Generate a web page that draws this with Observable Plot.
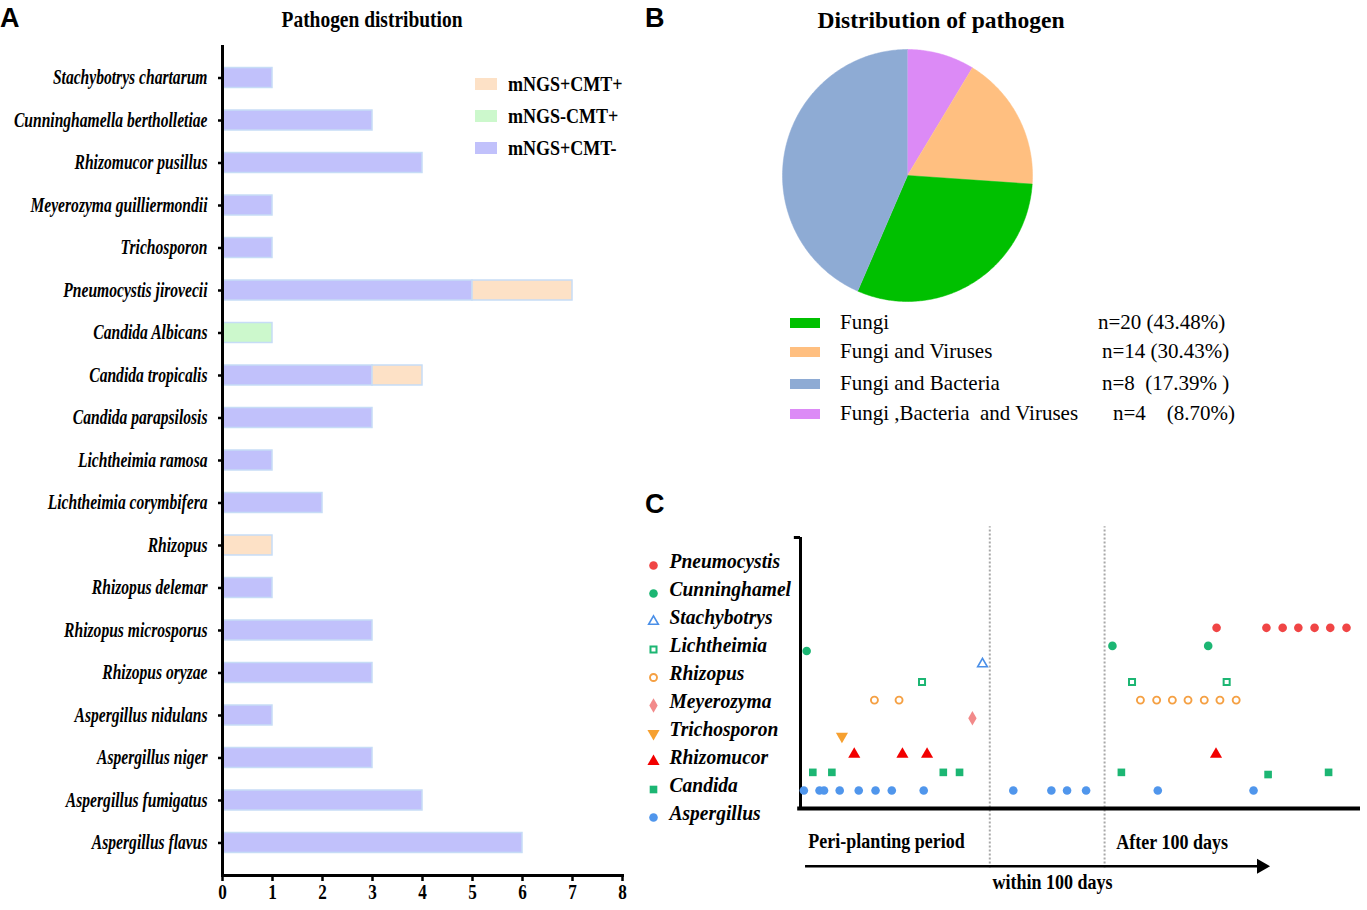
<!DOCTYPE html>
<html><head><meta charset="utf-8">
<script src="https://cdn.jsdelivr.net/npm/d3@7"></script>
<script src="https://cdn.jsdelivr.net/npm/@observablehq/plot@0.6"></script>
<style>
body{margin:0;background:#fff;}
#page{position:relative;width:1367px;height:910px;overflow:hidden;background:#fff;font-family:"Liberation Serif","Times New Roman",serif;color:#000;}
.abs{position:absolute;white-space:pre;}
.letter{font-family:"Liberation Sans",Arial,sans-serif;font-weight:bold;font-size:27px;line-height:27px;}
.sw{position:absolute;}
svg{position:absolute;overflow:visible;}
</style></head><body>
<div id="page"></div>
<script>
// ---------- Panel A data ----------
const speciesA = ["Stachybotrys chartarum","Cunninghamella bertholletiae","Rhizomucor pusillus","Meyerozyma guilliermondii","Trichosporon","Pneumocystis jirovecii","Candida Albicans","Candida tropicalis","Candida parapsilosis","Lichtheimia ramosa","Lichtheimia corymbifera","Rhizopus","Rhizopus delemar","Rhizopus microsporus","Rhizopus oryzae","Aspergillus nidulans","Aspergillus niger","Aspergillus fumigatus","Aspergillus flavus"];
const countPosNeg = [1,3,4,1,1,5,0,3,3,1,2,0,1,3,3,1,3,4,6]; // mNGS+CMT-
const countNegPos = [0,0,0,0,0,0,1,0,0,0,0,0,0,0,0,0,0,0,0]; // mNGS-CMT+
const countPosPos = [0,0,0,0,0,2,0,1,0,0,0,1,0,0,0,0,0,0,0]; // mNGS+CMT+
const typesA = ["mNGS+CMT+","mNGS-CMT+","mNGS+CMT-"];
const colorsA = ["#fde1c6","#ccf8cc","#c1c1fb"];
const xTicksA = [0,1,2,3,4,5,6,7,8];

// ---------- Panel B data ----------
const groupsB = ["Fungi","Fungi and Viruses","Fungi and Bacteria","Fungi ,Bacteria  and Viruses"];
const countTextB = ["n=20 (43.48%)","n=14 (30.43%)","n=8  (17.39% )","n=4    (8.70%)"];
const colorsB = ["#00c000","#ffbf80","#8eabd4","#dc8af6"];
const pieCounts = [4, 8, 14, 20];            // slices clockwise from 12 o'clock
const pieColors = ["#dc8af6","#ffbf80","#00c000","#8eabd4"];

// ---------- Panel C data ----------
const generaC = ["Pneumocystis","Cunninghamel","Stachybotrys","Lichtheimia","Rhizopus","Meyerozyma","Trichosporon","Rhizomucor","Candida","Aspergillus"];
const rowC = [10,9,8,7,6,5,4,3,2,1];
const timesC = [
  [74.3, 83.2, 86.1, 88.9, 91.8, 94.6, 97.5],
  [1.1, 55.7, 72.8],
  [32.5],
  [21.7, 59.2, 76.1],
  [13.2, 17.6, 60.7, 63.6, 66.4, 69.2, 72.1, 74.9, 77.8],
  [30.7],
  [7.4],
  [9.6, 18.2, 22.6, 74.2],
  [2.2, 5.6, 25.5, 28.4, 57.3, 83.5, 94.3],
  [0.6, 3.4, 4.2, 7.0, 10.4, 13.4, 16.3, 22.0, 38.0, 44.8, 47.6, 51.0, 63.8, 80.9]
];
const rowShiftC = [[1,0,-0.28],[8,5,-0.12]]; // [genus, point, shift]
const phaseBoundsC = [33.8, 54.3];

const styleC = {
  Pneumocystis: {symbol:"circle", fill:"#f04545", stroke:"none", r:4.3},
  Cunninghamel: {symbol:"circle", fill:"#1cb673", stroke:"none", r:4.3},
  Stachybotrys: {symbol:"triangle", fill:"#fff", stroke:"#4a8fe8", strokeWidth:1.6, r:3.6},
  Lichtheimia: {symbol:"square", fill:"#fff", stroke:"#1cb673", strokeWidth:2, r:3.4},
  Rhizopus: {symbol:"circle", fill:"#fff", stroke:"#f5a043", strokeWidth:1.9, r:3.5},
  Meyerozyma: {symbol:"diamond", fill:"#f28a8a", stroke:"none", r:4.4},
  Trichosporon: {symbol:"triangle", fill:"#f6a030", stroke:"none", r:4.5, rotate:180},
  Rhizomucor: {symbol:"triangle", fill:"#f20000", stroke:"none", r:4.5},
  Candida: {symbol:"square", fill:"#1cb673", stroke:"none", r:4.3},
  Aspergillus: {symbol:"circle", fill:"#5096ec", stroke:"none", r:4.3}
};

const page = document.getElementById("page");
function place(el, left, top) { el.style.left = left + "px"; el.style.top = top + "px"; page.appendChild(el); return el; }
function condense(svg, k) {
  svg.querySelectorAll("text").forEach(t => {
    const tr = t.getAttribute("transform") || "";
    t.setAttribute("transform", tr + ` scale(${k},1)`);
  });
}
function label(text, left, cy, size, opts = {}) {
  const d = document.createElement("div");
  d.className = "abs";
  d.textContent = text;
  d.style.fontSize = size + "px";
  d.style.lineHeight = (size * 1.3) + "px";
  d.style.height = (size * 1.3) + "px";
  if (opts.bold) d.style.fontWeight = "bold";
  if (opts.italic) d.style.fontStyle = "italic";
  const k = opts.k || 1;
  if (opts.center) { d.style.transform = `translateX(-50%) scaleX(${k})`; d.style.transformOrigin = "center"; }
  else { d.style.transform = `scaleX(${k})`; d.style.transformOrigin = "left center"; }
  return place(d, left, cy - size * 0.65);
}
function swatch(color, left, top, w, h) {
  const d = document.createElement("div");
  d.className = "sw"; d.style.width = w + "px"; d.style.height = h + "px"; d.style.background = color;
  return place(d, left, top);
}

// panel letters
for (const [t, x, y] of [["A",0,5],["B",645,5],["C",645,491]]) {
  const d = document.createElement("div"); d.className = "abs letter"; d.textContent = t; place(d, x, y);
}

// ---------- Panel A ----------
const rowsA = [];
speciesA.forEach((s, i) => {
  if (countPosNeg[i]) rowsA.push({species: s, type: "mNGS+CMT-", value: countPosNeg[i]});
  if (countNegPos[i]) rowsA.push({species: s, type: "mNGS-CMT+", value: countNegPos[i]});
  if (countPosPos[i]) rowsA.push({species: s, type: "mNGS+CMT+", value: countPosPos[i]});
});
const plotA = Plot.plot({
  width: 640, height: 910, marginLeft: 222, marginRight: 18, marginTop: 45, marginBottom: 35,
  style: {fontFamily: "'Liberation Serif','Times New Roman',serif", fontWeight: "bold", fontSize: "20px", color: "#000", background: "transparent"},
  x: {domain: [0, 8]},
  y: {domain: speciesA, padding: 0.53, round: false},
  color: {domain: typesA, range: colorsA},
  marks: [
    Plot.barX(rowsA, {x: "value", y: "species", fill: "type", stroke: "#c6dcf6", strokeWidth: 1.5}),
    Plot.axisX({ticks: xTicksA, tickSize: 6, tickPadding: 2, tickFormat: d3.format("d"), label: null, strokeWidth: 2.5, fontSize: 22}),
    Plot.axisY({tickSize: 4, tickPadding: 11, label: null, fontStyle: "italic", strokeWidth: 2.5}),
    Plot.ruleX([0], {strokeWidth: 3}),
    Plot.frame({anchor: "bottom", strokeWidth: 3})
  ]
});
condense(plotA, 0.78);
place(plotA, 0, 0);
label("Pathogen distribution", 372, 20, 24, {bold: true, center: true, k: 0.81});
typesA.forEach((t, i) => {
  const cy = 84 + i * 32;
  swatch(colorsA[i], 475, cy - 6, 22, 12);
  label(t, 508, cy, 20, {bold: true, k: 0.9});
});

// ---------- Panel B ----------
const arcs = d3.pie().sort(null).value(d => d)(pieCounts);
const pieMarks = arcs.map((a, i) => {
  const pts = [{x: 0, y: 0}];
  const n = Math.max(4, Math.ceil((a.endAngle - a.startAngle) * 80));
  for (let j = 0; j <= n; j++) {
    const t = a.startAngle + (a.endAngle - a.startAngle) * j / n;
    pts.push({x: Math.sin(t), y: Math.cos(t)});
  }
  return Plot.line(pts, {x: "x", y: "y", fill: pieColors[i], stroke: pieColors[i], strokeWidth: 0.5});
});
const plotB = Plot.plot({
  width: 250, height: 252, margin: 0,
  style: {background: "transparent"},
  x: {domain: [-1, 1], axis: null},
  y: {domain: [-1, 1], axis: null},
  marks: pieMarks
});
place(plotB, 782, 49);
label("Distribution of pathogen", 941, 21, 24, {bold: true, center: true, k: 0.98});
const rowYB = [323, 352, 384, 414];
const countXB = [1098, 1102, 1102, 1113];
groupsB.forEach((g, i) => {
  swatch(colorsB[i], 790, rowYB[i] - 5, 30, 10);
  label(g, 840, rowYB[i], 21);
  label(countTextB[i], countXB[i], rowYB[i], 21);
});

// ---------- Panel C ----------
const pointsC = [];
generaC.forEach((g, gi) => timesC[gi].forEach((t, pi) => {
  const sh = rowShiftC.find(s => s[0] === gi && s[1] === pi);
  pointsC.push({genus: g, time: t, row: rowC[gi] + (sh ? sh[2] : 0)});
}));
const dotMarksC = generaC.map(g => Plot.dot(pointsC.filter(p => p.genus === g), {x: "time", y: "row", ...styleC[g]}));
const plotC = Plot.plot({
  width: 727, height: 420, marginLeft: 160, marginRight: 7, marginTop: 47, marginBottom: 102,
  style: {fontFamily: "'Liberation Serif','Times New Roman',serif", fontWeight: "bold", fontSize: "20px", color: "#000", background: "transparent"},
  x: {domain: [0, 100], axis: null},
  y: {domain: [0, 15], axis: null},
  marks: [
    Plot.ruleX(phaseBoundsC, {y1: -3.3, y2: 15.6, stroke: "#a8a8a8", strokeWidth: 2, strokeDasharray: "2,2"}),
    Plot.ruleY([0], {x1: -0.5, x2: 100, strokeWidth: 4}),
    Plot.ruleX([0], {y1: 0, y2: 15, strokeWidth: 3}),
    Plot.ruleY([15], {x1: -1.1, x2: 0, strokeWidth: 3}),
    ...dotMarksC,
    Plot.ruleY([-3.2], {x1: 0.9, x2: 82, strokeWidth: 2.5}),
    Plot.dot([0], {x: 82.3, y: -3.2, symbol: "triangle", rotate: 90, r: 5.6, fill: "#000", stroke: "none"}),
    Plot.text(["Peri-planting period"], {x: 1.4, y: -1.82, text: d => d, textAnchor: "start"}),
    Plot.text(["After 100 days"], {x: 56.4, y: -1.88, text: d => d, textAnchor: "start"}),
    Plot.text(["within 100 days"], {x: 45, y: -4.1, text: d => d, textAnchor: "middle"})
  ]
});
condense(plotC, 0.9);
place(plotC, 640, 490);

const legC = Plot.plot({
  width: 155, height: 300, margin: 0,
  style: {fontFamily: "'Liberation Serif','Times New Roman',serif", fontWeight: "bold", fontStyle: "italic", fontSize: "21px", color: "#000", background: "transparent"},
  y: {type: "point", domain: generaC, range: [17, 277], padding: 0, axis: null},
  marks: [
    ...generaC.map(g => Plot.dot([g], {y: d => d, frameAnchor: "left", dx: 8, dy: 4, ...styleC[g]})),
    Plot.text(generaC, {y: d => d, text: d => d, frameAnchor: "left", dx: 24, textAnchor: "start"})
  ]
});
legC.querySelectorAll("text").forEach(t => t.setAttribute("transform", (t.getAttribute("transform") || "") + " scale(0.93,1)"));
place(legC, 645, 540);
</script></body></html>
